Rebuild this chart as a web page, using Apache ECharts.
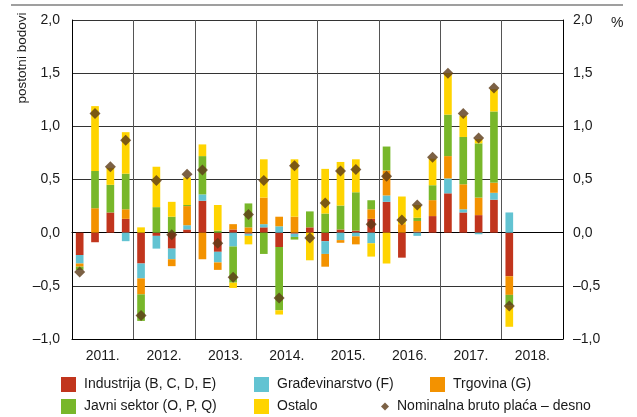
<!DOCTYPE html>
<html>
<head>
<meta charset="utf-8">
<script src="https://cdn.jsdelivr.net/npm/echarts@6/dist/echarts.min.js"></script>
<style>html,body{margin:0;padding:0;background:#fff}#c{width:637px;height:417px}</style>
</head>
<body>
<div id="c"></div>
<script>
var years = ['2011.', '2012.', '2013.', '2014.', '2015.', '2016.', '2017.', '2018.'];
var quarters = ['Q1', 'Q2', 'Q3', 'Q4'];
var yTicks = [-1.0, -0.5, 0.0, 0.5, 1.0, 1.5, 2.0];

var industry     = [-0.21, -0.09, 0.19, 0.13, -0.29, -0.03, -0.15, 0.03, 0.30, -0.18, 0.03, -0.01, 0.05, -0.135, -0.01, 0.05, -0.08, 0.03, 0.02, 0.13, 0.29, -0.235, 0.01, 0.156, 0.37, 0.19, 0.165, 0.31, -0.41];
var construction = [-0.08, 0, 0, -0.08, -0.14, -0.12, -0.10, 0.04, 0.06, -0.10, -0.13, -0.02, 0.03, 0.06, -0.03, 0, -0.12, -0.07, -0.035, -0.10, 0.06, 0, -0.03, 0, 0.14, 0.03, -0.015, 0.065, 0.19];
var trade        = [-0.03, 0.23, 0, 0.09, -0.15, 0, -0.065, 0.18, -0.25, -0.07, 0.05, 0.05, 0.25, 0.09, 0.15, 0, -0.12, -0.025, -0.075, 0.09, 0.235, 0.08, 0.10, 0.15, 0.21, 0.235, 0.165, 0.095, -0.175];
var publicSector = [-0.03, 0.35, 0.26, 0.335, -0.25, 0.24, 0.15, 0.01, 0.36, 0.02, -0.34, 0.225, -0.20, -0.595, -0.025, 0.15, 0.18, 0.225, 0.36, 0.085, 0.225, 0, 0.03, 0.14, 0.39, 0.445, 0.51, 0.67, -0.10];
var other        = [0, 0.61, 0.16, 0.39, 0.05, 0.38, 0.14, 0.26, 0.11, 0.24, -0.05, -0.08, 0.36, -0.04, 0.54, -0.26, 0.42, 0.41, 0.31, -0.125, -0.29, 0.26, 0.12, 0.25, 0.39, 0.20, 0.04, 0.21, -0.20];
var wage         = [-0.37, 1.12, 0.62, 0.87, -0.78, 0.49, -0.02, 0.55, 0.59, -0.10, -0.42, 0.17, 0.49, -0.615, 0.63, -0.05, 0.28, 0.58, 0.595, 0.08, 0.53, 0.12, 0.26, 0.71, 1.50, 1.12, 0.89, 1.36, -0.69];

var names = ['Industrija (B, C, D, E)', 'Građevinarstvo (F)', 'Trgovina (G)', 'Javni sektor (O, P, Q)', 'Ostalo', 'Nominalna bruto plaća – desno'];
var colors = ['#c1351d', '#62c3d2', '#f39200', '#78b72a', '#ffd400', '#5b3a17'];

var categories = [];
years.forEach(function (y) { quarters.forEach(function (q) { categories.push(y + q); }); });

var FONT = "'Liberation Sans', Arial, sans-serif";
var FS = 14;
var TXT = '#1a1a1a';
function fmt(v) { return v.toFixed(1).replace('.', ',').replace('-', '\u2013'); }

function barSeries(i, data) {
  return { name: names[i], type: 'bar', stack: 'total', xAxisIndex: 0, yAxisIndex: 0,
    barWidth: '50%', data: data, itemStyle: { color: colors[i] }, animation: false };
}

var legendBase = { orient: 'vertical', itemWidth: 15, itemHeight: 15, itemGap: 7, icon: 'rect', height: 60, width: 200,
  padding: 0,
  textStyle: { fontFamily: FONT, fontSize: FS, lineHeight: 15, color: TXT, padding: [0, 0, 0, 3] }, selectedMode: false };

var chart = echarts.init(document.getElementById('c'), null, { renderer: 'canvas' });
chart.setOption({
  animation: false,
  color: colors,
  grid: { left: 72, right: 74, top: 20, bottom: 78, containLabel: false },
  legend: [
    Object.assign({}, legendBase, { left: 61, top: 377, data: [names[0], names[3]] }),
    Object.assign({}, legendBase, { left: 254, top: 377, data: [names[1], names[4]] }),
    Object.assign({}, legendBase, { left: 430, top: 377, data: [names[2]] }),
    Object.assign({}, legendBase, { left: 381, top: 399, itemWidth: 8, itemHeight: 8, icon: 'diamond', data: [names[5]] })
  ],
  xAxis: [
    { type: 'category', data: categories, position: 'bottom', boundaryGap: true,
      axisLine: { show: true, onZero: true, lineStyle: { color: '#000', width: 1 } },
      axisTick: { show: false }, axisLabel: { show: false }, splitLine: { show: false } },
    { type: 'category', data: years, position: 'bottom', boundaryGap: true,
      axisLine: { show: true, onZero: false, lineStyle: { color: '#000', width: 1 } },
      axisTick: { show: false },
      axisLabel: { show: true, margin: 10, fontFamily: FONT, fontSize: FS, color: TXT },
      splitLine: { show: true, interval: 0, lineStyle: { color: '#555', width: 1 } } }
  ],
  yAxis: [
    { type: 'value', min: yTicks[0], max: yTicks[yTicks.length - 1], interval: 0.5, position: 'left',
      axisLine: { show: true, lineStyle: { color: '#000', width: 1 } }, axisTick: { show: false },
      axisLabel: { margin: 12, formatter: fmt, fontFamily: FONT, fontSize: FS, color: TXT },
      splitLine: { show: true, lineStyle: { color: '#333', width: 1 } } },
    { type: 'value', min: yTicks[0], max: yTicks[yTicks.length - 1], interval: 0.5, position: 'right',
      axisLine: { show: true, lineStyle: { color: '#000', width: 1 } }, axisTick: { show: false },
      axisLabel: { margin: 10, formatter: fmt, fontFamily: FONT, fontSize: FS, color: TXT },
      splitLine: { show: false } }
  ],
  graphic: [
    { type: 'line', shape: { x1: 11, y1: 5, x2: 623, y2: 5 }, style: { stroke: '#7f7f7f', lineWidth: 1.6 }, silent: true },
    { type: 'text', x: 22, y: 58, rotation: Math.PI / 2,
      style: { text: 'postotni bodovi', fontFamily: FONT, fontSize: 13.5, fill: TXT, textAlign: 'center', textVerticalAlign: 'middle' } },
    { type: 'text', x: 611, y: 23,
      style: { text: '%', fontFamily: FONT, fontSize: FS, fill: TXT, textAlign: 'left', textVerticalAlign: 'middle' } }
  ],
  series: [
    barSeries(0, industry),
    barSeries(1, construction),
    barSeries(2, trade),
    barSeries(3, publicSector),
    barSeries(4, other),
    { name: names[5], type: 'scatter', xAxisIndex: 0, yAxisIndex: 1, symbol: 'diamond', symbolSize: 11,
      data: wage, itemStyle: { color: colors[5] }, z: 5, animation: false }
  ]
});
</script>
</body>
</html>
